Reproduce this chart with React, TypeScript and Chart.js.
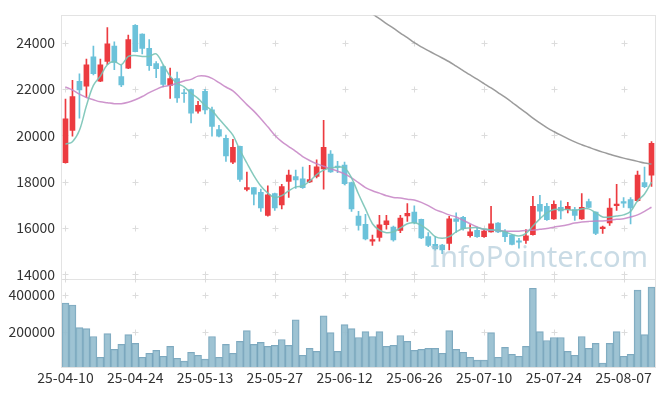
import React, { useEffect, useRef } from 'react';
import { Chart, registerables } from 'chart.js';

Chart.register(...registerables);

const dates: string[] = [
  '25-04-10','25-04-11','25-04-14','25-04-15','25-04-16','25-04-17','25-04-18','25-04-21','25-04-22','25-04-23',
  '25-04-24','25-04-25','25-04-28','25-04-29','25-04-30','25-05-02','25-05-07','25-05-08','25-05-09','25-05-12',
  '25-05-13','25-05-14','25-05-15','25-05-16','25-05-19','25-05-20','25-05-21','25-05-22','25-05-23','25-05-26',
  '25-05-27','25-05-28','25-05-29','25-05-30','25-06-02','25-06-04','25-06-05','25-06-09','25-06-10','25-06-11',
  '25-06-12','25-06-13','25-06-16','25-06-17','25-06-18','25-06-19','25-06-20','25-06-23','25-06-24','25-06-25',
  '25-06-26','25-06-27','25-06-30','25-07-01','25-07-02','25-07-03','25-07-04','25-07-07','25-07-08','25-07-09',
  '25-07-10','25-07-11','25-07-14','25-07-15','25-07-16','25-07-17','25-07-18','25-07-21','25-07-22','25-07-23',
  '25-07-24','25-07-25','25-07-28','25-07-29','25-07-30','25-07-31','25-08-01','25-08-04','25-08-05','25-08-06',
  '25-08-07','25-08-08','25-08-11','25-08-12','25-08-13',
];

const openP: number[] = [
  18820, 20220, 22330, 22130, 23390, 22340, 23190, 23860, 22540, 22900,
  24750, 24370, 23760, 23100, 22970, 22160, 22450, 21830, 21980, 21050,
  21900, 21100, 20250, 19870, 18850, 19530, 17670, 17750, 17540, 16550,
  17490, 17000, 18020, 18220, 18130, 17990, 18230, 18560, 19190, 18680,
  18720, 17960, 16520, 16160, 15440, 15600, 16150, 16050, 15900, 16530,
  16690, 16380, 15630, 15300, 15270, 15340, 16400, 16470, 15670, 15910,
  15630, 15840, 16220, 15840, 15700, 15450, 15470, 15720, 17030, 16940,
  16400, 16900, 16800, 16800, 16400, 17150, 16690, 15980, 16220, 16970,
  17150, 17230, 17180, 17960, 18290,
];
const highP: number[] = [
  21570, 22380, 22660, 23300, 23860, 23300, 24650, 24040, 23020, 24330,
  24780, 24380, 24140, 23190, 23010, 22910, 22730, 21990, 22000, 21470,
  21990, 21220, 20440, 20010, 19830, 19540, 18420, 17750, 17680, 17820,
  17510, 17890, 18500, 18500, 18630, 18710, 18950, 20650, 19350, 18880,
  18850, 17990, 16720, 16590, 15700, 16550, 16550, 16090, 16550, 17060,
  16960, 16390, 15810, 15630, 15300, 16510, 16660, 16510, 16150, 16050,
  15950, 16940, 16240, 15940, 15720, 15560, 15940, 17370, 17420, 17070,
  17180, 17180, 17110, 16900, 17490, 17250, 16700, 16090, 17280, 17890,
  17320, 17320, 18460, 18630, 19730,
];
const lowP: number[] = [
  18800, 19970, 20750, 21640, 22610, 22320, 23050, 22840, 22100, 22880,
  23600, 23520, 22810, 22490, 22090, 21600, 21430, 21430, 20540, 20960,
  20930, 19970, 19940, 18880, 18780, 18020, 17610, 17000, 16720, 16520,
  16760, 16830, 17320, 17710, 17710, 17960, 18170, 17680, 18400, 18390,
  17860, 16720, 15910, 15490, 15250, 15440, 15950, 15440, 15800, 16290,
  16180, 15550, 15200, 15050, 14900, 15060, 15810, 15910, 15610, 15600,
  15600, 15830, 15800, 15410, 15280, 15130, 15340, 15700, 16400, 16330,
  16380, 16400, 16660, 16330, 16380, 16880, 15720, 15770, 16120, 16760,
  16890, 16180, 17150, 17750, 17800,
];
const closeP: number[] = [
  20720, 21680, 21960, 23050, 22670, 23050, 23950, 23150, 22180, 24140,
  23620, 23760, 23010, 22880, 22200, 22450, 21620, 21800, 20960, 21300,
  21100, 20390, 19970, 19120, 19490, 18100, 17750, 17470, 16870, 17440,
  16870, 17790, 18290, 18080, 17750, 18090, 18640, 19490, 18420, 18630,
  17920, 16830, 16120, 15530, 15510, 16140, 16310, 15490, 16430, 16640,
  16230, 15580, 15250, 15100, 15060, 16400, 16290, 15980, 15840, 15630,
  15870, 16180, 15840, 15630, 15300, 15390, 15670, 16940, 16730, 16360,
  17030, 16740, 16940, 16550, 16900, 16890, 15770, 16040, 16860, 17040,
  17080, 16870, 18290, 17790, 19660,
];
const volumes: number[] = [
  357200, 346500, 223500, 218200, 175400, 63100, 191400, 105900, 132600, 186100,
  138000, 63100, 84500, 100500, 68400, 121900, 57700, 41700, 89800, 73800,
  52400, 175400, 63100, 132600, 84500, 148700, 207500, 132600, 143300, 121900,
  127300, 159400, 127300, 266300, 73800, 111200, 95100, 287700, 196800, 95100,
  239600, 218200, 170000, 202100, 175400, 202100, 121900, 127300, 180700, 148700,
  100500, 105900, 111200, 111200, 84500, 207500, 105900, 89800, 63100, 47000,
  47000, 196800, 63100, 116600, 79100, 68400, 121900, 437500, 202100, 154000,
  170000, 170000, 95100, 73800, 175400, 111200, 138000, 31700, 138000, 202100,
  68400, 79100, 426800, 186100, 443500,
];
const ma5: number[] = [
  19620, 19730, 20220, 21280, 22160, 22560, 23050, 23190, 23050, 23410,
  23450, 23410, 23410, 23520, 23050, 22560, 22250, 22100, 21820, 21600,
  21290, 21070, 20720, 20370, 20010, 19370, 18810, 18270, 17820, 17510,
  17320, 17400, 17610, 17780, 17820, 18030, 18310, 18500, 18600, 18630,
  18600, 18170, 17470, 16830, 16190, 15910, 15800, 15840, 16010, 16190,
  16230, 16120, 15910, 15630, 15560, 15630, 15840, 15980, 16010, 16020,
  15960, 15930, 15910, 15840, 15730, 15660, 15770, 16090, 16400, 16660,
  16800, 16800, 16800, 16760, 16830, 16830, 16660, 16480, 16480, 16520,
  16570, 16720, 17180, 17470, 17990,
];
const ma20: number[] = [
  22090, 21960, 21780, 21640, 21540, 21450, 21410, 21370, 21370, 21430,
  21540, 21680, 21850, 21990, 22110, 22160, 22250, 22350, 22420, 22560,
  22560, 22460, 22280, 22090, 21920, 21640, 21330, 21050, 20720, 20370,
  20010, 19730, 19520, 19310, 19090, 18920, 18780, 18670, 18560, 18460,
  18340, 18170, 17960, 17750, 17610, 17510, 17400, 17320, 17300, 17250,
  17210, 17110, 16970, 16800, 16690, 16570, 16480, 16340, 16190, 16050,
  15940, 15910, 15900, 15870, 15870, 15870, 15900, 15910, 15950, 15980,
  16040, 16090, 16150, 16220, 16260, 16290, 16310, 16310, 16340, 16380,
  16400, 16480, 16570, 16720, 16900,
];
const ma60: (number | null)[] = [
  null, null, null, null, null, null, null, null, null, null,
  null, null, null, null, null, null, null, null, null, null,
  null, null, null, null, null, null, null, null, null, null,
  null, null, null, null, null, null, null, null, null, null,
  null, null, 25650, 25450, 25240, 25040, 24830, 24630, 24420, 24220,
  24000, 23820, 23660, 23500, 23340, 23180, 22990, 22800, 22610, 22430,
  22240, 22050, 21850, 21650, 21430, 21200, 20980, 20750, 20540, 20340,
  20170, 20010, 19860, 19720, 19600, 19490, 19380, 19280, 19190, 19100,
  19020, 18950, 18880, 18810, 18770,
];
const priceTicks: number[] = [14000, 16000, 18000, 20000, 22000, 24000];
const volumeTicks: number[] = [200000, 400000];
const labelEvery = 10;
const watermark = 'InfoPointer.com';

const UP = '#ec3b40';
const DOWN = '#6cc2da';
const FONT = "'Noto Sans CJK KR', 'Noto Sans', sans-serif";

export default function App() {
  const ref = useRef<HTMLCanvasElement>(null);

  useEffect(() => {
    const canvas = ref.current;
    if (!canvas) return;
    const colors = closeP.map((c, i) => (c >= openP[i] ? UP : DOWN));

    const framePlugin = {
      id: 'frame',
      beforeDatasetsDraw(chart: any) {
        const { ctx, scales } = chart;
        const x = scales.x, y = scales.y, yv = scales.yv;
        ctx.save();
        ctx.strokeStyle = '#e3e3e3';
        ctx.lineWidth = 1;
        const L = Math.round(x.left) - 0.5;
        const R = Math.round(x.right) + 0.5;
        const T = Math.round(y.top) + 0.5;
        const M = Math.round(y.bottom) + 0.5;
        const B = Math.round(yv.bottom) + 0.5;
        ctx.strokeRect(L, T, R - L, M - T);
        ctx.strokeRect(L, M, R - L, B - M);
        ctx.strokeStyle = '#dcdcdc';
        const ys: number[] = [];
        priceTicks.forEach((v) => ys.push(y.getPixelForValue(v)));
        volumeTicks.forEach((v) => ys.push(yv.getPixelForValue(v)));
        ys.push(y.bottom);
        for (let i = 0; i < dates.length; i += labelEvery) {
          const px = Math.round(x.getPixelForValue(i)) + 0.5;
          ys.forEach((py0) => {
            const py = Math.round(py0) + 0.5;
            ctx.beginPath();
            ctx.moveTo(px - 3, py);
            ctx.lineTo(px + 3, py);
            ctx.moveTo(px, py - 3);
            ctx.lineTo(px, py + 3);
            ctx.stroke();
          });
        }
        ctx.restore();
      },
      afterDatasetsDraw(chart: any) {
        const { ctx, scales } = chart;
        const x = scales.x, y = scales.y;
        ctx.save();
        let size = 30;
        ctx.font = `${size}px 'Noto Sans', sans-serif`;
        const w = ctx.measureText(watermark).width;
        size = size * 218 / w;
        ctx.font = `${size}px 'Noto Sans', sans-serif`;
        ctx.fillStyle = 'rgba(165,195,212,0.6)';
        ctx.textAlign = 'right';
        ctx.textBaseline = 'alphabetic';
        ctx.fillText(watermark, x.right - 7, y.bottom - 12);
        ctx.restore();
      },
    };

    const chart = new Chart(canvas, {
      type: 'bar',
      data: {
        labels: dates,
        datasets: [
          {
            type: 'line',
            data: ma5,
            borderColor: 'rgba(120,195,182,0.9)',
            borderWidth: 1.5,
            pointRadius: 0,
            tension: 0.35,
            yAxisID: 'y',
            order: 0,
          } as any,
          {
            type: 'line',
            data: ma20,
            borderColor: 'rgba(198,130,196,0.85)',
            borderWidth: 1.5,
            pointRadius: 0,
            tension: 0.35,
            yAxisID: 'y',
            order: 0,
          } as any,
          {
            type: 'line',
            data: ma60,
            borderColor: 'rgba(150,150,150,0.95)',
            borderWidth: 1.5,
            pointRadius: 0,
            tension: 0.35,
            yAxisID: 'y',
            order: 0,
          } as any,
          {
            data: openP.map((o, i) => [o, closeP[i]]),
            backgroundColor: colors,
            barThickness: 5,
            minBarLength: 1,
            grouped: false,
            yAxisID: 'y',
            order: 1,
          } as any,
          {
            data: lowP.map((l, i) => [l, highP[i]]),
            backgroundColor: colors,
            barThickness: 1,
            grouped: false,
            yAxisID: 'y',
            order: 2,
          } as any,
          {
            data: volumes,
            backgroundColor: 'rgba(148,188,206,0.9)',
            borderColor: 'rgba(112,160,184,0.9)',
            borderWidth: 1,
            barPercentage: 1,
            categoryPercentage: 1,
            grouped: false,
            yAxisID: 'yv',
            order: 3,
          } as any,
        ],
      },
      options: {
        responsive: false,
        animation: false,
        events: [],
        layout: { padding: { left: 0, right: 10, top: 10, bottom: 0 } },
        plugins: { legend: { display: false }, tooltip: { enabled: false } },
        scales: {
          x: {
            type: 'category',
            offset: true,
            grid: { display: false, drawTicks: false },
            border: { display: false },
            ticks: {
              autoSkip: false,
              maxRotation: 0,
              minRotation: 0,
              padding: 2,
              color: '#333',
              font: { family: FONT, size: 14 },
              callback: (_v: any, idx: number) => (idx % labelEvery === 0 ? dates[idx] : ''),
            },
            afterFit: (s: any) => { s.height = 29; },
          },
          y: {
            type: 'linear',
            position: 'left',
            stack: 'panels',
            stackWeight: 3,
            weight: 2,
            min: 13800,
            max: 25180,
            grid: { display: false, drawTicks: false },
            border: { display: false },
            afterBuildTicks: (s: any) => { s.ticks = priceTicks.map((v) => ({ value: v })); },
            ticks: {
              padding: 7,
              color: '#333',
              font: { family: FONT, size: 14 },
              callback: (v: any) => String(v),
            },
            afterFit: (s: any) => { s.width = 62; },
          },
          yv: {
            type: 'linear',
            position: 'left',
            stack: 'panels',
            stackWeight: 1,
            weight: 1,
            min: 10000,
            max: 487000,
            grid: { display: false, drawTicks: false },
            border: { display: false },
            afterBuildTicks: (s: any) => { s.ticks = volumeTicks.map((v) => ({ value: v })); },
            ticks: {
              padding: 7,
              color: '#333',
              font: { family: FONT, size: 14 },
              callback: (v: any) => String(v),
            },
            afterFit: (s: any) => { s.width = 62; },
          },
        } as any,
      },
      plugins: [framePlugin],
    } as any);

    return () => chart.destroy();
  }, []);

  return (
    <div style={{ position: 'absolute', left: 0, top: 0, width: 665, height: 396, background: '#fff' }}>
      <canvas ref={ref} width={665} height={396} style={{ width: 665, height: 396 }} />
    </div>
  );
}
